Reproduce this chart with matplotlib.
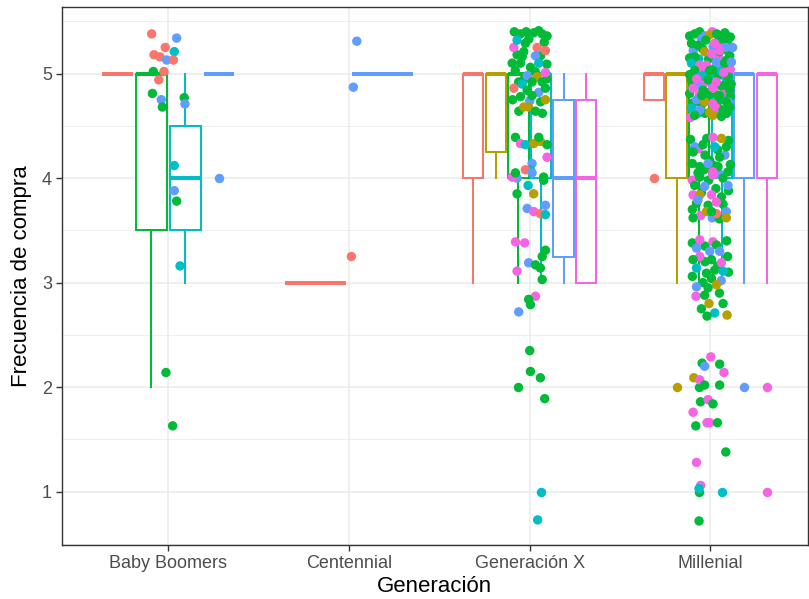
import numpy as np
import matplotlib.pyplot as plt

# Paleta hue de ggplot para 6 grupos
colores = {'r': '#F8766D', 'o': '#B79F00', 'g': '#00BA38',
           'c': '#00BFC4', 'b': '#619CFF', 'm': '#F564E3'}

generaciones = ['Baby Boomers', 'Centennial', 'Generación X', 'Millenial']

# Resumen de cada caja: [bigote inferior, Q1, mediana, Q3, bigote superior]
cajas_bb = {'r': [5, 5, 5, 5, 5], 'g': [2, 3.5, 5, 5, 5],
            'c': [3, 3.5, 4, 4.5, 5], 'b': [5, 5, 5, 5, 5]}
cajas_cen = {'r': [3, 3, 3, 3, 3], 'b': [5, 5, 5, 5, 5]}
cajas_gx = {'r': [3, 4, 5, 5, 5], 'o': [4, 4.25, 5, 5, 5], 'g': [3, 4, 5, 5, 5],
            'c': [3, 4, 5, 5, 5], 'b': [3, 3.25, 4, 4.75, 5], 'm': [3, 3, 4, 4.75, 5]}
cajas_mil = {'r': [4.75, 4.75, 5, 5, 5], 'o': [3, 4, 5, 5, 5], 'g': [3, 4, 5, 5, 5],
             'c': [3, 4, 5, 5, 5], 'b': [3, 4, 5, 5, 5], 'm': [3, 4, 5, 5, 5]}

# Valores atípicos de cada caja
atipicos_bb = {'b': [4]}
atipicos_cen = {}
atipicos_gx = {'g': [2], 'c': [1]}
atipicos_mil = {'r': [4], 'o': [2], 'g': [2, 1], 'c': [1], 'b': [2], 'm': [2, 1]}

# Puntos con jitter: (desplazamiento en x, frecuencia, grupo)
puntos_bb = [
    (-0.092, 5.38, 'r'), (0.046, 5.34, 'b'), (-0.017, 5.25, 'r'), (0.033, 5.21, 'c'),
    (-0.079, 5.18, 'r'), (-0.046, 5.16, 'r'), (-0.009, 5.13, 'b'), (0.028, 5.13, 'r'),
    (-0.083, 5.02, 'g'), (-0.024, 5.02, 'r'), (-0.053, 4.94, 'r'), (-0.088, 4.81, 'g'),
    (-0.039, 4.75, 'b'), (-0.033, 4.68, 'g'), (0.088, 4.77, 'g'), (0.092, 4.71, 'b'),
    (0.033, 4.12, 'c'), (0.033, 3.88, 'b'), (0.046, 3.78, 'g'), (0.065, 3.16, 'c'),
    (-0.013, 2.14, 'g'), (0.024, 1.63, 'g'),
]
puntos_cen = [(0.043, 5.31, 'b'), (0.024, 4.87, 'b'), (0.013, 3.25, 'r')]
puntos_gx = [
    (-0.085, 5.40, 'g'), (-0.020, 5.40, 'g'), (0.050, 5.41, 'g'), (0.080, 5.30, 'g'),
    (-0.005, 5.33, 'g'), (-0.070, 5.18, 'g'), (0.060, 5.17, 'g'), (0.095, 5.09, 'g'),
    (-0.080, 5.03, 'g'), (0.030, 5.02, 'g'), (-0.030, 4.95, 'g'), (0.095, 4.95, 'g'),
    (-0.095, 4.75, 'g'), (0.060, 4.73, 'g'), (-0.060, 4.64, 'g'), (0.070, 4.62, 'g'),
    (0.000, 4.74, 'b'), (-0.070, 4.00, 'b'),
    (-0.051, 5.38, 'g'), (0.022, 5.39, 'g'), (0.069, 5.38, 'g'), (0.096, 5.36, 'g'),
    (-0.088, 5.25, 'm'), (-0.070, 5.32, 'c'), (-0.024, 5.29, 'g'), (0.041, 5.25, 'r'),
    (0.087, 5.22, 'r'), (-0.033, 5.21, 'g'), (0.032, 5.17, 'b'), (-0.042, 5.16, 'g'),
    (-0.097, 5.10, 'g'), (-0.051, 5.10, 'g'), (0.050, 5.10, 'c'), (0.004, 5.06, 'g'),
    (0.087, 5.01, 'm'), (-0.014, 4.98, 'b'), (0.041, 4.97, 'o'), (-0.061, 4.92, 'g'),
    (-0.042, 4.90, 'c'), (0.013, 4.92, 'g'), (0.069, 4.92, 'g'), (-0.088, 4.86, 'r'),
    (-0.014, 4.84, 'g'), (0.050, 4.82, 'b'), (0.087, 4.86, 'g'), (-0.051, 4.78, 'g'),
    (0.013, 4.79, 'g'), (0.087, 4.75, 'o'), (-0.033, 4.68, 'o'), (-0.006, 4.68, 'o'),
    (0.032, 4.64, 'g'), (-0.079, 4.39, 'g'), (-0.051, 4.33, 'm'), (-0.024, 4.32, 'c'),
    (0.022, 4.33, 'o'), (0.059, 4.35, 'o'), (0.050, 4.39, 'g'), (0.096, 4.32, 'g'),
    (0.096, 4.20, 'm'), (0.013, 4.14, 'b'), (0.004, 4.08, 'c'), (-0.024, 4.08, 'r'),
    (0.013, 4.05, 'b'), (-0.097, 4.01, 'm'), (-0.079, 4.05, 'g'), (0.077, 4.01, 'g'),
    (-0.070, 3.85, 'g'), (-0.009, 3.93, 'c'), (0.022, 3.85, 'o'), (0.077, 3.98, 'g'),
    (-0.014, 3.71, 'b'), (0.022, 3.68, 'm'), (0.059, 3.66, 'r'), (0.087, 3.74, 'b'),
    (0.087, 3.65, 'c'), (-0.079, 3.39, 'm'), (-0.028, 3.38, 'm'), (0.087, 3.31, 'g'),
    (0.069, 3.25, 'g'), (-0.006, 3.19, 'b'), (0.032, 3.17, 'g'), (0.059, 3.14, 'g'),
    (-0.070, 3.11, 'm'), (0.069, 3.03, 'g'), (0.032, 2.87, 'm'), (-0.006, 2.84, 'g'),
    (0.004, 2.79, 'g'), (-0.061, 2.72, 'b'), (0.000, 2.35, 'g'), (0.004, 2.15, 'g'),
    (0.059, 2.09, 'g'), (0.083, 1.89, 'g'), (0.044, 0.73, 'c'),
]
puntos_mil = [
    (-0.115, 5.36, 'g'), (-0.060, 5.40, 'g'), (0.010, 5.40, 'm'), (0.080, 5.39, 'g'),
    (0.110, 5.35, 'g'), (-0.030, 5.36, 'b'), (0.045, 5.36, 'g'), (-0.095, 5.22, 'b'),
    (-0.045, 5.24, 'g'), (0.015, 5.26, 'b'), (0.070, 5.27, 'm'), (0.100, 5.21, 'g'),
    (-0.115, 5.15, 'g'), (-0.065, 5.14, 'c'), (-0.010, 5.14, 'g'), (0.045, 5.15, 'm'),
    (0.090, 5.13, 'g'), (-0.080, 5.06, 'g'), (-0.035, 5.04, 'm'), (0.025, 5.05, 'g'),
    (0.060, 5.07, 'b'), (0.110, 5.04, 'm'), (-0.115, 4.99, 'g'), (-0.070, 4.96, 'g'),
    (-0.020, 4.99, 'c'), (0.040, 4.98, 'g'), (0.085, 4.96, 'c'), (-0.090, 4.90, 'g'),
    (-0.040, 4.90, 'm'), (0.010, 4.89, 'b'), (0.060, 4.88, 'g'), (0.115, 4.90, 'g'),
    (-0.115, 4.81, 'g'), (-0.060, 4.80, 'm'), (-0.025, 4.82, 'g'), (0.030, 4.80, 'g'),
    (0.075, 4.80, 'm'), (0.110, 4.78, 'g'), (-0.095, 4.72, 'g'), (-0.050, 4.70, 'g'),
    (0.040, 4.73, 'g'), (0.100, 4.73, 'b'), (-0.070, 4.62, 'c'), (-0.030, 4.62, 'g'),
    (0.030, 4.62, 'b'), (0.090, 4.62, 'g'), (-0.110, 4.58, 'm'), (0.050, 4.66, 'g'),
    (-0.087, 5.38, 'g'), (-0.004, 5.37, 'o'), (-0.050, 5.33, 'b'), (0.061, 5.33, 'g'),
    (0.097, 5.32, 'g'), (-0.105, 5.29, 'g'), (-0.069, 5.27, 'g'), (0.024, 5.29, 'm'),
    (0.088, 5.25, 'b'), (-0.032, 5.21, 'o'), (0.051, 5.21, 'g'), (-0.087, 5.16, 'g'),
    (0.006, 5.19, 'm'), (0.107, 5.17, 'g'), (-0.105, 5.10, 'c'), (-0.059, 5.08, 'm'),
    (-0.022, 5.08, 'm'), (0.033, 5.11, 'b'), (0.079, 5.10, 'g'), (0.116, 5.11, 'b'),
    (-0.087, 5.03, 'g'), (-0.004, 5.03, 'g'), (0.061, 5.02, 'c'), (-0.050, 4.98, 'c'),
    (0.097, 4.97, 'g'), (-0.105, 4.94, 'g'), (-0.013, 4.94, 'g'), (0.033, 4.92, 'm'),
    (-0.069, 4.89, 'b'), (0.079, 4.89, 'g'), (-0.096, 4.86, 'm'), (-0.041, 4.84, 'g'),
    (0.014, 4.86, 'm'), (0.107, 4.84, 'g'), (-0.013, 4.79, 'g'), (0.051, 4.79, 'g'),
    (-0.077, 4.75, 'b'), (-0.032, 4.73, 'o'), (0.014, 4.71, 'm'), (0.088, 4.73, 'g'),
    (-0.105, 4.67, 'c'), (-0.059, 4.65, 'b'), (-0.004, 4.63, 'o'), (0.033, 4.67, 'm'),
    (0.070, 4.65, 'g'), (0.107, 4.68, 'g'), (-0.087, 4.60, 'g'), (0.014, 4.60, 'o'),
    (0.061, 4.59, 'g'), (0.051, 5.22, 'm'), (-0.026, 5.32, 'g'), (0.074, 5.01, 'm'),
    (-0.048, 4.79, 'g'), (0.123, 5.25, 'b'), (0.035, 5.38, 'g'), (-0.076, 4.95, 'm'),
    (-0.110, 4.37, 'g'), (-0.020, 4.38, 'g'), (0.100, 4.36, 'g'), (-0.065, 4.28, 'm'),
    (0.040, 4.27, 'g'), (-0.030, 4.22, 'g'), (0.080, 4.22, 'b'), (-0.100, 4.14, 'g'),
    (0.020, 4.12, 'g'), (0.110, 4.13, 'g'), (-0.035, 4.08, 'g'), (0.050, 4.04, 'b'),
    (-0.100, 3.98, 'm'), (-0.010, 3.98, 'g'), (0.100, 3.88, 'g'), (0.030, 3.90, 'g'),
    (-0.050, 3.86, 'g'), (0.070, 3.75, 'g'), (-0.100, 3.70, 'g'), (0.010, 3.62, 'b'),
    (0.050, 3.61, 'g'), (-0.055, 3.64, 'm'),
    (-0.087, 4.30, 'b'), (-0.041, 4.32, 'g'), (0.014, 4.39, 'm'), (0.061, 4.38, 'o'),
    (-0.096, 4.25, 'g'), (0.024, 4.30, 'c'), (0.088, 4.30, 'g'), (-0.004, 4.17, 'g'),
    (0.051, 4.20, 'g'), (-0.059, 4.11, 'g'), (-0.013, 4.14, 'b'), (0.042, 4.11, 'g'),
    (0.097, 4.06, 'g'), (-0.069, 4.05, 'g'), (0.014, 4.06, 'm'), (-0.059, 4.01, 'g'),
    (0.014, 4.03, 'm'), (0.070, 4.00, 'g'), (-0.087, 3.93, 'g'), (-0.032, 3.92, 'b'),
    (0.097, 3.93, 'b'), (-0.096, 3.84, 'm'), (-0.059, 3.84, 'o'), (0.006, 3.84, 'm'),
    (0.061, 3.82, 'g'), (-0.077, 3.76, 'g'), (-0.013, 3.74, 'g'), (0.033, 3.77, 'm'),
    (-0.069, 3.79, 'b'), (-0.022, 3.68, 'o'), (0.033, 3.66, 'r'), (0.088, 3.68, 'b'),
    (0.088, 3.62, 'o'), (-0.096, 3.62, 'g'), (0.006, 3.68, 'g'),
    (-0.100, 3.38, 'g'), (0.090, 3.40, 'g'), (-0.030, 3.35, 'g'), (0.095, 3.25, 'g'),
    (-0.030, 3.20, 'g'), (0.040, 3.16, 'g'), (-0.100, 3.06, 'g'), (0.060, 3.02, 'b'),
    (0.100, 3.10, 'g'), (0.050, 2.90, 'g'), (-0.080, 2.87, 'm'), (0.070, 2.80, 'g'),
    (-0.059, 3.41, 'm'), (0.014, 3.39, 'm'), (0.033, 3.36, 'g'), (-0.077, 3.33, 'b'),
    (-0.004, 3.30, 'b'), (0.051, 3.30, 'b'), (-0.059, 3.25, 'm'), (0.006, 3.22, 'g'),
    (-0.096, 3.22, 'g'), (0.061, 3.19, 'm'), (-0.077, 3.14, 'c'), (0.024, 3.12, 'g'),
    (0.070, 3.11, 'c'), (-0.022, 3.09, 'g'), (0.006, 3.04, 'g'), (-0.041, 3.00, 'g'),
    (0.033, 2.98, 'o'), (-0.077, 2.96, 'b'), (-0.013, 2.95, 'g'), (-0.032, 2.88, 'g'),
    (-0.008, 2.80, 'o'), (-0.050, 2.75, 'g'), (0.024, 2.71, 'c'), (-0.019, 2.68, 'g'),
    (0.092, 2.69, 'o'),
    (0.002, 2.29, 'm'), (-0.046, 2.23, 'g'), (0.051, 2.22, 'g'), (-0.032, 2.20, 'b'),
    (0.075, 2.14, 'm'), (-0.092, 2.09, 'o'), (-0.059, 2.07, 'm'), (-0.032, 2.02, 'g'),
    (0.051, 2.02, 'g'), (-0.055, 1.86, 'g'), (-0.013, 1.88, 'm'), (0.014, 1.84, 'g'),
    (-0.096, 1.76, 'm'), (-0.081, 1.63, 'g'), (-0.019, 1.66, 'm'), (-0.004, 1.66, 'm'),
    (0.039, 1.66, 'g'), (0.085, 1.38, 'g'), (-0.077, 1.28, 'm'), (-0.054, 1.06, 'm'),
    (-0.063, 1.03, 'c'), (-0.063, 0.72, 'g'),
]

cajas = [cajas_bb, cajas_cen, cajas_gx, cajas_mil]
atipicos = [atipicos_bb, atipicos_cen, atipicos_gx, atipicos_mil]
puntos = [puntos_bb, puntos_cen, puntos_gx, puntos_mil]

plt.rcParams['font.family'] = ['Liberation Sans', 'DejaVu Sans']

fig = plt.figure(figsize=(8.09, 5.99), dpi=100)
ax = fig.add_axes([61.7 / 809, 54 / 599, (808 - 61.7) / 809, (545 - 6.7) / 599])

lw_caja = 1.45
ancho_total = 0.75

# Cajas esquivadas dentro de cada generación
for i, (gen_cajas, gen_atip) in enumerate(zip(cajas, atipicos)):
    n = len(gen_cajas)
    hueco = ancho_total / n
    for k, (grupo, st) in enumerate(gen_cajas.items()):
        pos = i + 1 - ancho_total / 2 + hueco * (k + 0.5)
        col = colores[grupo]
        stats = dict(whislo=st[0], q1=st[1], med=st[2], q3=st[3], whishi=st[4],
                     fliers=gen_atip.get(grupo, []))
        ax.bxp([stats], positions=[pos], widths=hueco * 0.9, patch_artist=True,
               showcaps=False, manage_ticks=False,
               boxprops=dict(facecolor='white', edgecolor=col, linewidth=lw_caja),
               whiskerprops=dict(color=col, linewidth=lw_caja),
               medianprops=dict(color=col, linewidth=lw_caja * 2,
                                solid_capstyle='butt'),
               flierprops=dict(marker='o', markerfacecolor=col, markeredgecolor='none',
                               markersize=6.8),
               zorder=2)

# Puntos con jitter encima de las cajas
for i, gen_puntos in enumerate(puntos):
    dx, fy, grp = zip(*gen_puntos)
    ax.scatter(np.array(dx) + i + 1, fy, s=46, c=[colores[g] for g in grp],
               edgecolors='none', zorder=3)

ax.set_xlim(0.41, 4.54)
ax.set_ylim(0.49, 5.64)
ax.set_xticks(range(1, 5))
ax.set_xticklabels(generaciones)
ax.set_yticks([1, 2, 3, 4, 5])
ax.set_yticks(np.arange(0.5, 6.0, 1.0), minor=True)

ax.grid(which='major', color='#EBEBEB', linewidth=1.1, zorder=0)
ax.grid(which='minor', axis='y', color='#EBEBEB', linewidth=0.55, zorder=0)
ax.set_axisbelow(True)

ax.tick_params(which='major', length=4, width=1.0, color='#333333',
               labelcolor='#4D4D4D', labelsize=13, pad=3)
ax.tick_params(which='minor', length=0)
for sp in ax.spines.values():
    sp.set_color('#333333')
    sp.set_linewidth(1.0)

ax.set_xlabel('Generación', fontsize=16, labelpad=3)
ax.set_ylabel('Frecuencia de compra', fontsize=16, labelpad=7)

fig.savefig('out.png', dpi=100)
